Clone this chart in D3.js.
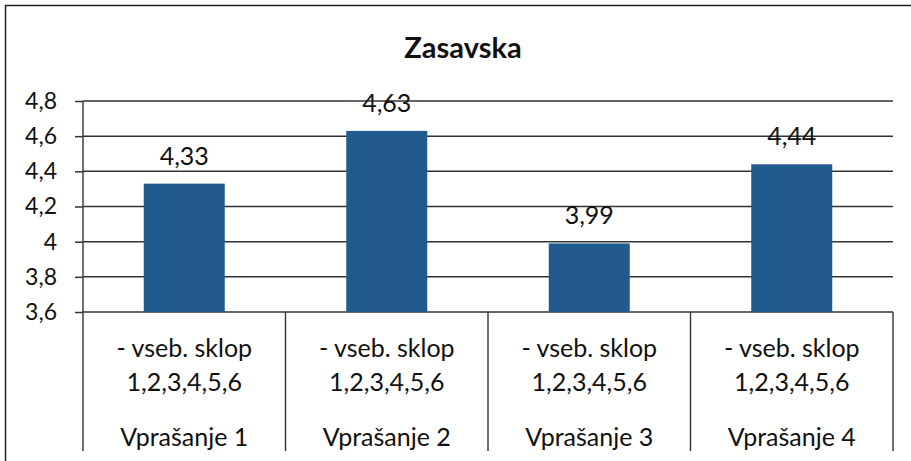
<!DOCTYPE html>
<html>
<head>
<meta charset="utf-8">
<script src="https://cdn.jsdelivr.net/npm/d3@7"></script>
<style>
  body { margin: 0; background: #fff; }
  text { font-family: Lato, "Open Sans", sans-serif; fill: #111; }
</style>
</head>
<body>
<div id="graph"></div>
<script>
const width = 911
const height = 461

const title = 'Zasavska'
const categories = ['Vprašanje 1', 'Vprašanje 2', 'Vprašanje 3', 'Vprašanje 4']
const subLabels = ['- vseb. sklop', '1,2,3,4,5,6']
const values = [4.33, 4.63, 3.99, 4.44]
const yTicks = [3.6, 3.8, 4.0, 4.2, 4.4, 4.6, 4.8]

const plot = { left: 83, right: 893, top: 101, bottom: 312 }

const svg = d3.select('#graph').append('svg')
  .attr('width', width)
  .attr('height', height)

// outer frame (runs off the picture at right and bottom)
svg.append('rect')
  .attr('x', 5.5).attr('y', 5.5)
  .attr('width', 940).attr('height', 480)
  .attr('fill', 'none')
  .attr('stroke', '#222')
  .attr('stroke-width', 1.5)

svg.append('text')
  .attr('x', 463).attr('y', 58)
  .attr('text-anchor', 'middle')
  .attr('font-size', 29)
  .attr('font-weight', 'bold')
  .text(title)

const xScale = d3.scaleBand().domain(categories).range([plot.left, plot.right])
const yScale = d3.scaleLinear().domain([3.6, 4.8]).range([plot.bottom, plot.top])

const fmt = (v) => d3.format('.1f')(v).replace(/\.0$/, '').replace('.', ',')

// gridlines + y ticks
const yAxis = svg.append('g')
  .attr('transform', `translate(${plot.left},0)`)
  .call(d3.axisLeft(yScale).tickValues(yTicks).tickSize(8).tickFormat(fmt))
yAxis.select('.domain').remove()
yAxis.selectAll('line').attr('stroke', '#333').attr('stroke-width', 1.5)
yAxis.selectAll('text')
  .attr('x', -26)
  .attr('font-size', 23)
  .attr('font-family', 'Lato, sans-serif')
  .attr('fill', '#111')

svg.append('g').selectAll('line').data(yTicks).join('line')
  .attr('x1', plot.left).attr('x2', plot.right)
  .attr('y1', (d) => yScale(d)).attr('y2', (d) => yScale(d))
  .attr('stroke', '#333')
  .attr('stroke-width', 1.5)

// bars
const barW = xScale.bandwidth() * 0.4
svg.append('g').selectAll('rect').data(values).join('rect')
  .attr('x', (d, i) => xScale(categories[i]) + (xScale.bandwidth() - barW) / 2)
  .attr('y', (d) => yScale(d))
  .attr('width', barW)
  .attr('height', (d) => yScale(3.6) - yScale(d))
  .attr('fill', '#215b8d')

// value labels
svg.append('g').selectAll('text').data(values).join('text')
  .attr('x', (d, i) => xScale(categories[i]) + xScale.bandwidth() / 2)
  .attr('y', (d) => yScale(d) - 19)
  .attr('text-anchor', 'middle')
  .attr('font-size', 25)
  .text((d) => d3.format('.2f')(d).replace('.', ','))

// category table below the plot
const tableBottom = 451
const bounds = categories.map((c) => xScale(c)).concat([plot.right])
svg.append('g').selectAll('line').data(bounds).join('line')
  .attr('x1', (d) => d).attr('x2', (d) => d)
  .attr('y1', (d, i) => (i === 0 ? plot.top : plot.bottom))
  .attr('y2', tableBottom)
  .attr('stroke', '#333')
  .attr('stroke-width', 1.4)

const cat = svg.append('g').selectAll('g').data(categories).join('g')
  .attr('transform', (d) => `translate(${xScale(d) + xScale.bandwidth() / 2},0)`)
cat.append('text').attr('y', 357).attr('text-anchor', 'middle').attr('font-size', 25).text(subLabels[0])
cat.append('text').attr('y', 391).attr('text-anchor', 'middle').attr('font-size', 25).text(subLabels[1])
cat.append('text').attr('y', 446).attr('text-anchor', 'middle').attr('font-size', 25).text((d) => d)
</script>
</body>
</html>
